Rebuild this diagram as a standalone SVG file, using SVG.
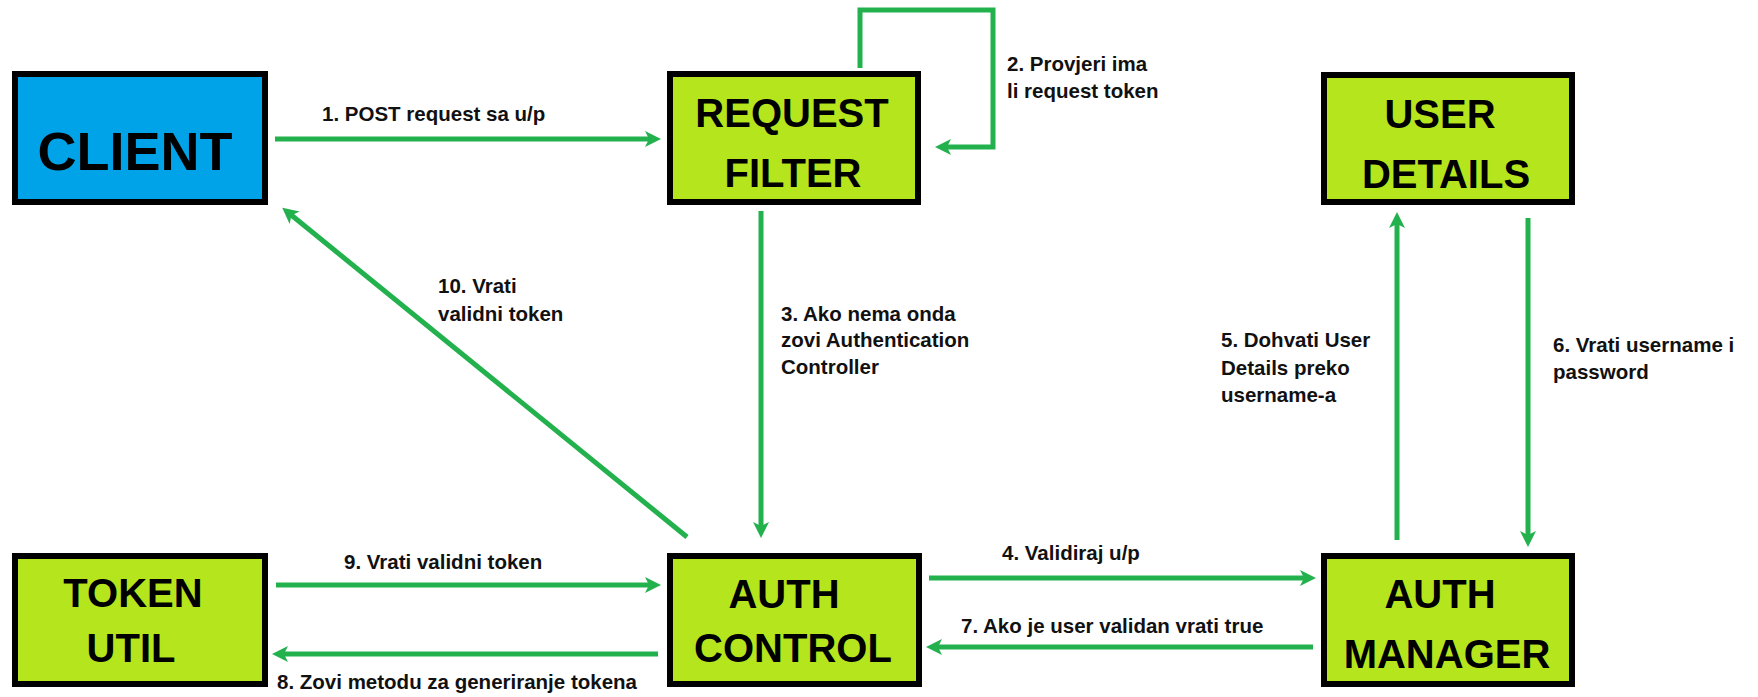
<svg xmlns="http://www.w3.org/2000/svg" width="1758" height="697" viewBox="0 0 1758 697">
<style>
.box{stroke:#000;stroke-width:6;}
.green{fill:#B5E61D;}
.blue{fill:#00A2E8;}
.nt{font-family:"Liberation Sans",Arial,sans-serif;font-weight:bold;font-size:40px;fill:#000;text-anchor:middle;}
.lbl{font-family:"Liberation Sans",Arial,sans-serif;font-weight:bold;font-size:20.5px;fill:#111;}
.c{fill:none;stroke:#22B14C;stroke-width:5;marker-end:url(#ah);}
</style>
<defs>
<marker id="ah" markerUnits="userSpaceOnUse" markerWidth="16" markerHeight="16" viewBox="0 0 16 16" refX="6" refY="8" orient="auto">
<path d="M0,0 L16,8 L0,16 L4,8 Z" fill="#22B14C"/>
</marker>
</defs>
<rect width="1758" height="697" fill="#fff"/>
<g id="client">
<rect class="box blue" x="15" y="74" width="250" height="128"/>
<text class="nt" x="135" y="170" style="font-size:54px">CLIENT</text>
</g>
<g id="request-filter">
<rect class="box green" x="670" y="74" width="248" height="128"/>
<text class="nt" x="792" y="127">REQUEST</text>
<text class="nt" x="793" y="187">FILTER</text>
</g>
<g id="user-details">
<rect class="box green" x="1324" y="75" width="248" height="127"/>
<text class="nt" x="1440" y="128">USER</text>
<text class="nt" x="1446" y="188">DETAILS</text>
</g>
<g id="token-util">
<rect class="box green" x="15" y="556" width="250" height="128"/>
<text class="nt" x="133" y="607">TOKEN</text>
<text class="nt" x="131" y="662">UTIL</text>
</g>
<g id="auth-control">
<rect class="box green" x="670" y="556" width="249" height="128"/>
<text class="nt" x="784" y="608">AUTH</text>
<text class="nt" x="793" y="662">CONTROL</text>
</g>
<g id="auth-manager">
<rect class="box green" x="1324" y="556" width="248" height="128"/>
<text class="nt" x="1440" y="608">AUTH</text>
<text class="nt" x="1447" y="668">MANAGER</text>
</g>
<g id="connectors">
<path class="c" d="M275,139 H651"/>
<path class="c" d="M860,68 V10 H993 V147 H945"/>
<path class="c" d="M761,211 V528"/>
<path class="c" d="M929,578 H1306"/>
<path class="c" d="M1397,540 V222"/>
<path class="c" d="M1528,218 V537"/>
<path class="c" d="M1313,647 H936"/>
<path class="c" d="M658,654 H282"/>
<path class="c" d="M276,585 H651"/>
<path class="c" d="M687,537 L290,214"/>
</g>
<g id="labels">
<text class="lbl" x="322" y="121">1. POST request sa u/p</text>
<text class="lbl" x="1007" y="71">2. Provjeri ima</text>
<text class="lbl" x="1007" y="98">li request token</text>
<text class="lbl" x="781" y="321">3. Ako nema onda</text>
<text class="lbl" x="781" y="347">zovi Authentication</text>
<text class="lbl" x="781" y="374">Controller</text>
<text class="lbl" x="1002" y="560">4. Validiraj u/p</text>
<text class="lbl" x="1221" y="347">5. Dohvati User</text>
<text class="lbl" x="1221" y="375">Details preko</text>
<text class="lbl" x="1221" y="402">username-a</text>
<text class="lbl" x="1553" y="352">6. Vrati username i</text>
<text class="lbl" x="1553" y="379">password</text>
<text class="lbl" x="961" y="633">7. Ako je user validan vrati true</text>
<text class="lbl" x="277" y="689">8. Zovi metodu za generiranje tokena</text>
<text class="lbl" x="344" y="569">9. Vrati validni token</text>
<text class="lbl" x="438" y="293">10. Vrati</text>
<text class="lbl" x="438" y="321">validni token</text>
</g>
</svg>
